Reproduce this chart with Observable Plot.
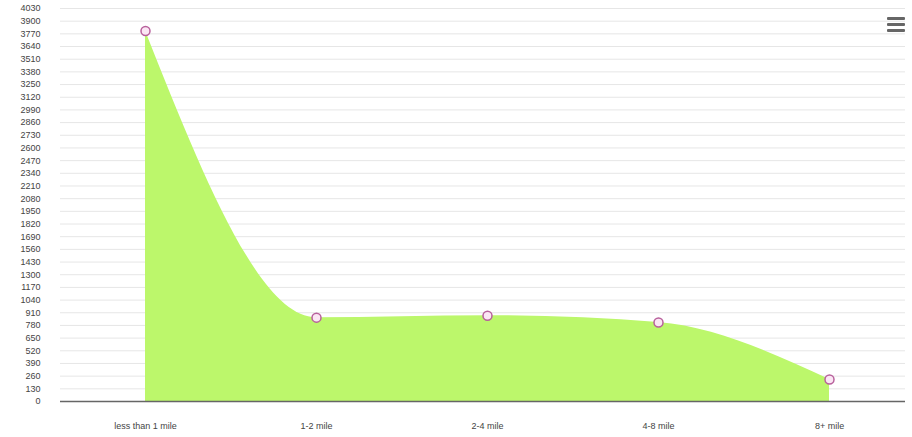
<!DOCTYPE html>
<html>
<head>
<meta charset="utf-8">
<script src="https://cdn.jsdelivr.net/npm/d3@7"></script>
<script src="https://cdn.jsdelivr.net/npm/@observablehq/plot@0.6"></script>
<style>
  html, body { margin: 0; padding: 0; background: #fff; }
  #wrap { position: relative; width: 912px; height: 437px; }
  #menu { position: absolute; left: 887px; top: 17px; width: 18px; }
  #menu div { height: 3px; background: #666; margin-bottom: 3px; border-radius: 1px; }
</style>
</head>
<body>
<div id="wrap">
  <div id="chart"></div>
  <div id="menu"><div></div><div></div><div></div></div>
</div>
<script>
const categories = ["less than 1 mile", "1-2 mile", "2-4 mile", "4-8 mile", "8+ mile"];
const values = [3800, 860, 880, 810, 225];
const yTicks = d3.range(0, 4031, 130);

const data = categories.map((c, i) => ({category: c, value: values[i]}));

const chart = Plot.plot({
  width: 912,
  height: 437,
  marginLeft: 60,
  marginRight: 7,
  marginTop: 8,
  marginBottom: 36,
  style: {fontFamily: "Liberation Sans, Arial, sans-serif", fontSize: "9px", color: "#444", background: "#fff"},
  x: {type: "point", domain: categories, range: [145, 829], padding: 0, label: null},
  y: {domain: [0, 4030], range: [401, 8], label: null},
  marks: [
    Plot.ruleY(yTicks, {stroke: "#e6e6e6", strokeWidth: 1}),
    Plot.areaY(data, {x: "category", y: "value", curve: "monotone-x", fill: "#bcf76b"}),
    Plot.ruleY([0], {stroke: "#666", strokeWidth: 1.5}),
    Plot.dot(data, {x: "category", y: "value", r: 4.5, fill: "#fbe6f4", stroke: "#b8609c", strokeWidth: 1.5}),
    Plot.axisY({ticks: yTicks, tickSize: 0, tickPadding: 20, tickFormat: d => String(d), fontSize: 9}),
    Plot.axisX({tickSize: 0, tickPadding: 21, fontSize: 9})
  ]
});
document.getElementById("chart").appendChild(chart);
</script>
</body>
</html>
